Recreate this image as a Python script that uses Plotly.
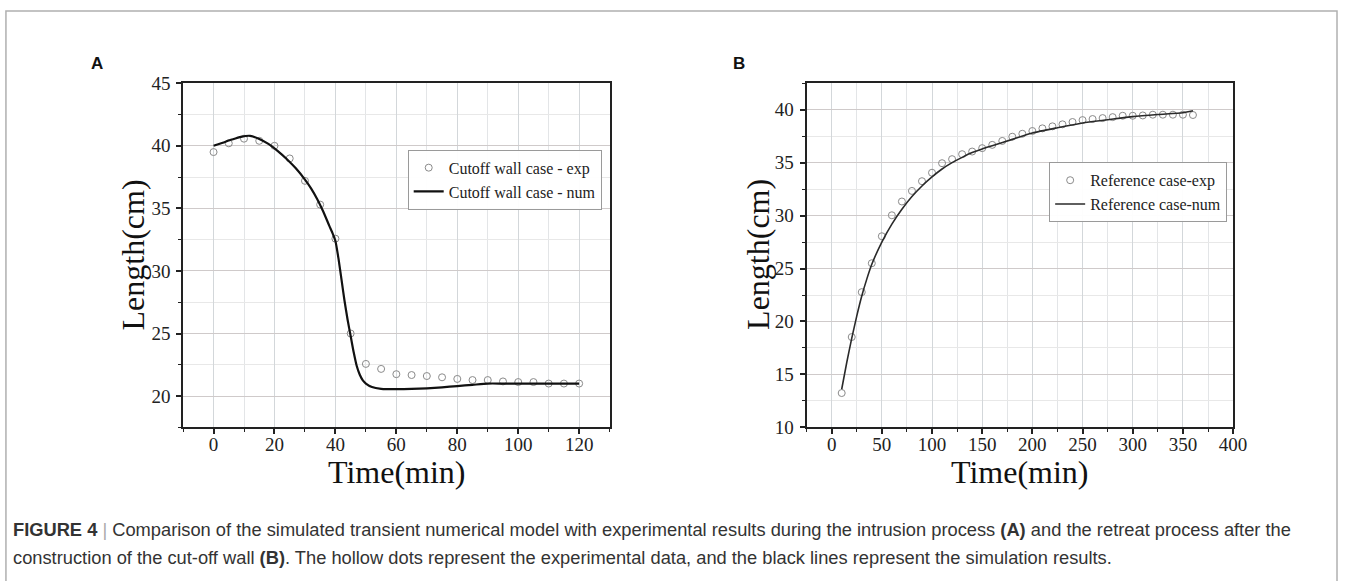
import plotly.graph_objects as go

# ---- data: panel A (intrusion with cut-off wall) ----
time_a_exp = [0, 5, 10, 15, 20, 25, 30, 35, 40, 45, 50, 55, 60, 65, 70, 75, 80,
              85, 90, 95, 100, 105, 110, 115, 120]
len_a_exp = [39.5, 40.2, 40.57, 40.4, 40.0, 38.99, 37.2, 35.3, 32.58, 25.0, 22.57,
             22.17, 21.75, 21.68, 21.6, 21.5, 21.37, 21.28, 21.28, 21.17, 21.12,
             21.12, 21.0, 21.0, 21.0]
time_a_num = [0, 3, 6, 9, 12, 15, 18, 21, 24, 27, 30, 32, 34, 36, 38, 39, 40, 41,
              42, 43, 44, 45, 46, 47, 48, 49, 50, 52, 55, 60, 65, 70, 75, 80, 85,
              90, 95, 100, 110, 120]
len_a_num = [40.0, 40.25, 40.5, 40.72, 40.8, 40.55, 40.15, 39.6, 38.95, 38.2, 37.3,
             36.6, 35.75, 34.75, 33.6, 33.05, 32.4, 31.0, 29.3, 27.6, 26.1, 24.8,
             23.5, 22.4, 21.7, 21.25, 21.0, 20.72, 20.58, 20.55, 20.57, 20.62,
             20.7, 20.8, 20.9, 21.0, 21.0, 21.0, 21.0, 21.0]

# ---- data: panel B (retreat, reference case) ----
time_b_exp = [10, 20, 30, 40, 50, 60, 70, 80, 90, 100, 110, 120, 130, 140, 150,
              160, 170, 180, 190, 200, 210, 220, 230, 240, 250, 260, 270, 280,
              290, 300, 310, 320, 330, 340, 350, 360]
len_b_exp = [13.24, 18.53, 22.77, 25.5, 28.05, 30.03, 31.33, 32.33, 33.25, 34.05,
             34.95, 35.33, 35.8, 36.05, 36.37, 36.68, 37.05, 37.45, 37.73, 37.99,
             38.24, 38.43, 38.62, 38.84, 39.02, 39.12, 39.21, 39.3, 39.43, 39.43,
             39.46, 39.53, 39.53, 39.53, 39.53, 39.5]
time_b_num = [10, 15, 20, 25, 30, 35, 40, 50, 60, 70, 80, 90, 100, 110, 120, 130,
              140, 150, 160, 180, 200, 225, 250, 275, 300, 325, 350, 360]
len_b_num = [13.6, 16.1, 18.4, 20.5, 22.4, 24.0, 25.4, 27.5, 29.2, 30.6, 31.8,
             32.8, 33.65, 34.4, 35.0, 35.5, 35.95, 36.3, 36.6, 37.2, 37.8, 38.3,
             38.75, 39.05, 39.35, 39.55, 39.72, 39.9]

W, H = 1352, 581
SERIF = "Liberation Serif, Times New Roman, serif"
SANS = "Liberation Sans, Arial, sans-serif"


def px_x(x):
    return x / W


def px_y(y):
    return 1 - y / H


# plot-area boxes in pixels (left, right, top, bottom)
BOX_A = (185, 616, 76, 433)
BOX_B = (815, 1246, 76, 433)

fig = go.Figure()

marker_style = dict(symbol="circle-open", size=7, color="#8a8a8a",
                    line=dict(width=1, color="#8a8a8a"))

fig.add_trace(go.Scatter(x=time_a_exp, y=len_a_exp, mode="markers",
                         name="Cutoff wall case - exp", marker=marker_style,
                         xaxis="x", yaxis="y", legend="legend"))
fig.add_trace(go.Scatter(x=time_a_num, y=len_a_num, mode="lines",
                         name="Cutoff wall case - num",
                         line=dict(color="#111111", width=2.2, shape="spline",
                                   smoothing=0.6),
                         xaxis="x", yaxis="y", legend="legend"))
fig.add_trace(go.Scatter(x=time_b_exp, y=len_b_exp, mode="markers",
                         name="Reference case-exp", marker=marker_style,
                         xaxis="x2", yaxis="y2", legend="legend2"))
fig.add_trace(go.Scatter(x=time_b_num, y=len_b_num, mode="lines",
                         name="Reference case-num",
                         line=dict(color="#2a2a2a", width=1.6, shape="spline",
                                   smoothing=0.6),
                         xaxis="x2", yaxis="y2", legend="legend2"))


def axis_common():
    return dict(
        showline=True, linewidth=1.8, linecolor="#222222", mirror=True,
        ticks="outside", ticklen=5, tickwidth=1.5, tickcolor="#222222",
        tickfont=dict(family=SERIF, size=19, color="#222222"),
        showgrid=True, gridwidth=1, zeroline=False,
    )


def minor(dt, grid):
    return dict(dtick=dt, ticks="outside", ticklen=3, tickwidth=1.2,
                tickcolor="#222222", showgrid=True, gridcolor=grid)


xa = axis_common()
xa.update(domain=[px_x(BOX_A[0]), px_x(BOX_A[1])], range=[-10, 130], tick0=0,
          dtick=20, gridcolor="#d3d7da", anchor="y", ticklabelstandoff=-6,
          minor=minor(10, "#e3e5e7"))
ya = axis_common()
ya.update(domain=[px_y(BOX_A[3]), px_y(BOX_A[2])], range=[17.5, 45], tick0=20,
          dtick=5, gridcolor="#cfcaca", anchor="x", ticklabelstandoff=2,
          minor=minor(2.5, "#e8e8e8"))
xb = axis_common()
xb.update(domain=[px_x(BOX_B[0]), px_x(BOX_B[1])], range=[-25, 400], tick0=0,
          dtick=50, gridcolor="#d3d7da", anchor="y2", ticklabelstandoff=-6,
          minor=minor(25, "#e3e5e7"))
yb = axis_common()
yb.update(domain=[px_y(BOX_B[3]), px_y(BOX_B[2])], range=[10, 42.5], tick0=10,
          dtick=5, gridcolor="#cfcaca", anchor="x2", ticklabelstandoff=2,
          minor=minor(2.5, "#e8e8e8"))

legend_common = dict(
    bgcolor="rgba(255,255,255,0.95)", bordercolor="#9a9a9a", borderwidth=1,
    font=dict(family=SERIF, size=16, color="#222222"),
    xanchor="right", yanchor="top", tracegroupgap=0, itemwidth=30,
)
leg_a = dict(legend_common, x=px_x(608), y=px_y(145))
leg_b = dict(legend_common, x=px_x(1240), y=px_y(158))

title_font = dict(family=SERIF, size=32, color="#111")
label_font = dict(family=SANS, size=17, color="#111")
caption_font = dict(family=SANS, size=18.3, color="#333333")
annotations = [
    dict(text="<b>A</b>", x=px_x(98), y=px_y(56), font=label_font),
    dict(text="<b>B</b>", x=px_x(747), y=px_y(56), font=label_font),
    dict(text="Time(min)", x=px_x(401), y=px_y(479), font=title_font),
    dict(text="Time(min)", x=px_x(1031), y=px_y(479), font=title_font),
    dict(text="Length(cm)", x=px_x(134), y=px_y(254), textangle=-90, font=title_font),
    dict(text="Length(cm)", x=px_x(766), y=px_y(254), textangle=-90, font=title_font),
    dict(text="<b>FIGURE 4</b> <span style='color:#aaaaaa'>|</span> Comparison of the simulated transient numerical model with "
              "experimental results during the intrusion process <b>(A)</b> and the retreat process after the",
         x=px_x(11), y=px_y(539), xanchor="left", font=caption_font),
    dict(text="construction of the cut-off wall <b>(B)</b>. The hollow dots represent the experimental data, "
              "and the black lines represent the simulation results.",
         x=px_x(11), y=px_y(568), xanchor="left", font=caption_font),
]
for a in annotations:
    a.update(xref="paper", yref="paper", showarrow=False)
    a.setdefault("xanchor", "center")
    a.setdefault("yanchor", "middle")

fig.update_layout(
    width=W, height=H, margin=dict(l=0, r=0, t=0, b=0),
    paper_bgcolor="white", plot_bgcolor="white",
    xaxis=xa, yaxis=ya, xaxis2=xb, yaxis2=yb,
    legend=leg_a, legend2=leg_b,
    annotations=annotations,
    shapes=[dict(type="rect", xref="paper", yref="paper",
                 x0=px_x(6), x1=px_x(1351), y0=-0.05, y1=px_y(1),
                 line=dict(color="#b0b0b0", width=1.5), layer="below")],
)

fig.write_html("out.html")
